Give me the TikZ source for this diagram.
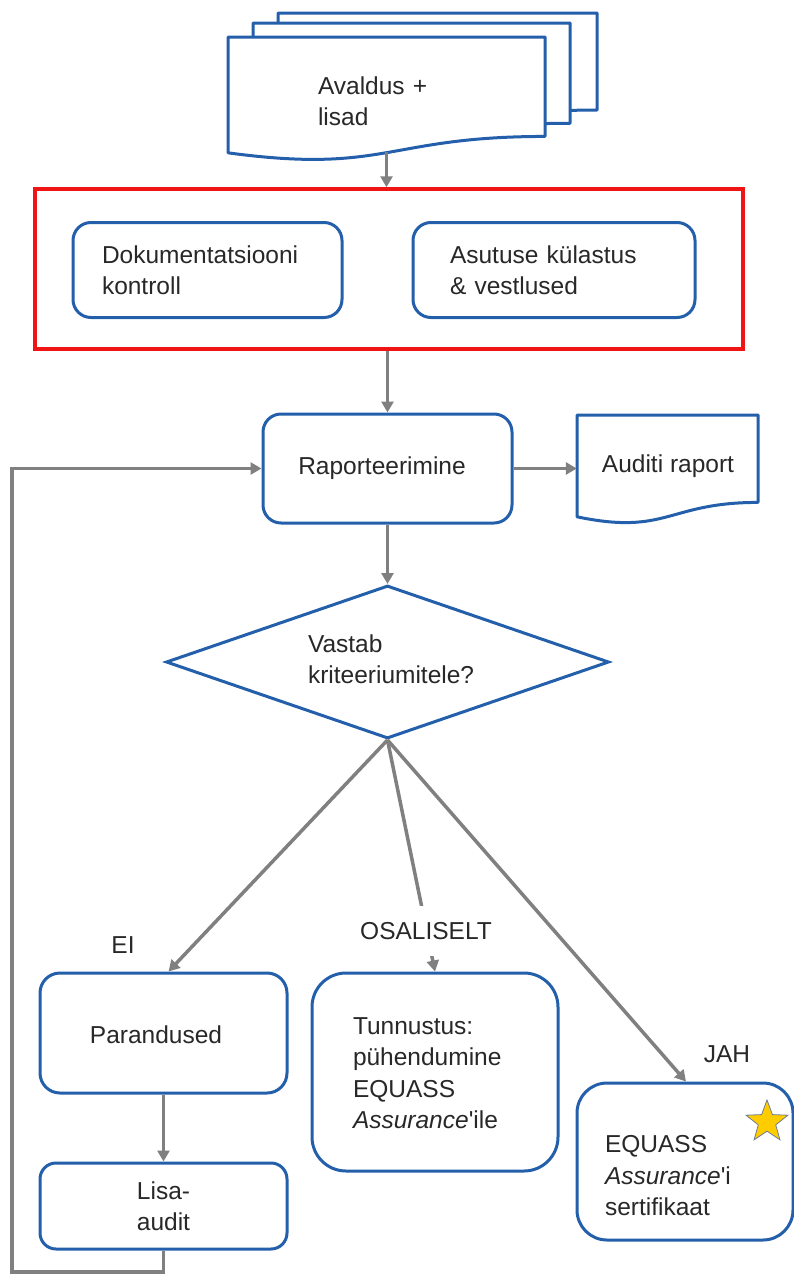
\documentclass[tikz,border=0pt]{standalone}
\usepackage{fontspec}
\setmainfont{Liberation Sans}
\usetikzlibrary{arrows.meta,shapes.geometric,calc}
\definecolor{myblue}{RGB}{35,95,170}
\definecolor{mygray}{RGB}{128,128,128}
\definecolor{myred}{RGB}{240,20,20}
\definecolor{mytext}{RGB}{40,40,40}
\definecolor{mystar}{RGB}{255,204,0}
\definecolor{mystarline}{RGB}{110,125,150}
\newcommand\docshape[4]{%
  \filldraw[docst] (#1,#2) -- (#3,#2) -- (#3,{#2+0.802*#4})
    .. controls ({(#1+#3)/2},{#2+0.802*#4}) and ({(#1+#3)/2},{#2+1.107*#4}) ..
    (#1,{#2+0.934*#4}) -- cycle;}
\tikzset{
  base/.style={font=\fontsize{24.5}{31.5}\selectfont, text=mytext},
  docst/.style={draw=myblue, fill=white, line width=3pt, line join=round},
  procbox/.style={base, draw=myblue, fill=white, line width=3pt, rounded corners=18pt, inner sep=0pt},
  txt/.style={base, inner sep=0pt},
  arr/.style={draw=mygray, line width=3.5pt, -{Triangle[length=11pt,width=12pt]}},
}
\begin{document}
\begin{tikzpicture}[x=1pt,y=-1pt]
\useasboundingbox (0,0) rectangle (794,1277);
% stacked documents
\docshape{278}{13}{597}{121}
\docshape{253}{23}{570}{125}
\docshape{228}{37}{545}{124}
\node[txt, text width=120pt, align=left] (ava) at (378,101) {Avaldus +\\lisad};
\coordinate (avb) at (386.5,152);
% red group
\node[draw=myred, line width=3.5pt, minimum width=708pt, minimum height=160pt, inner sep=0pt] (grp) at (389,269) {};
\node[procbox, minimum width=269pt, minimum height=95pt, text width=269pt, align=left] (dok) at (207.5,270)
  {\hspace*{29pt}Dokumentatsiooni\\\hspace*{29pt}kontroll};
\node[procbox, minimum width=282pt, minimum height=95pt, text width=282pt, align=left] (asu) at (554,270)
  {\hspace*{37pt}Asutuse külastus\\\hspace*{37pt}\& vestlused};
% reporting
\node[procbox, minimum width=249pt, minimum height=109pt] (rap) at (387.5,468.5) {};
\node[txt] (raptxt) at (382,468.5) {Raporteerimine};
\docshape{577}{415}{758}{109}
\node[minimum width=181pt, minimum height=104pt, inner sep=0pt] (aud) at (667.5,466) {};
\node[txt] (audtxt) at (668,466) {Auditi raport};
% decision
\node[draw=myblue, line width=3pt, fill=white, diamond, aspect=2.9, minimum width=443pt, minimum height=153pt, inner sep=0pt] (dia) at (387.5,662) {};
\node[txt, text width=172pt, align=left] (diatxt) at (394,659) {Vastab\\kriteeriumitele?};
% outcomes
\node[procbox, rounded corners=20pt, minimum width=247pt, minimum height=120pt] (par) at (163.5,1033) {};
\node[txt] (partxt) at (156,1035) {Parandused};
\node[procbox, rounded corners=16pt, minimum width=247pt, minimum height=86pt, align=center] (lisa) at (163.5,1206) {Lisa-\\audit};
\node[procbox, rounded corners=34pt, minimum width=246pt, minimum height=198pt] (tun) at (435,1072) {};
\node[txt, text width=162pt, align=left] (tuntxt) at (434,1073) {Tunnustus:\\pühendumine\\EQUASS\\\textit{Assurance}\textquotesingle ile};
\node[procbox, rounded corners=30pt, minimum width=216pt, minimum height=157pt] (equ) at (685,1161.5) {};
\node[txt, text width=160pt, align=left] (equtxt) at (685,1176) {EQUASS\\\textit{Assurance}\textquotesingle i\\sertifikaat};
\node[star, star points=5, star point ratio=2.4, minimum size=44pt, inner sep=0pt, fill=mystar, draw=mystarline, line width=0.8pt] (star) at (767,1122) {};
% connectors
\draw[arr] (avb) -- (avb |- grp.north);
\draw[arr] (rap.north |- grp.south) -- (rap.north);
\draw[arr] (rap.east) -- (rap.east -| aud.west);
\draw[arr] (rap.south) -- (dia.north);
\draw[arr] (dia.south) -- ([xshift=5pt]par.north);
\draw[arr] (dia.south) -- (tun.north);
\draw[arr] (dia.south) -- ([xshift=1pt]equ.north);
\draw[arr] (par.south) -- (lisa.north);
\coordinate (fb) at (12,1272);
\draw[arr] (lisa.south) |- (fb) |- (rap.west);
% labels
\node[txt] (ei) at (123,945) {EI};
\node[txt, fill=white, inner xsep=2pt, inner ysep=16pt] (osa) at (426,931) {OSALISELT};
\node[txt] (jah) at (727,1054) {JAH};
\end{tikzpicture}
\end{document}
